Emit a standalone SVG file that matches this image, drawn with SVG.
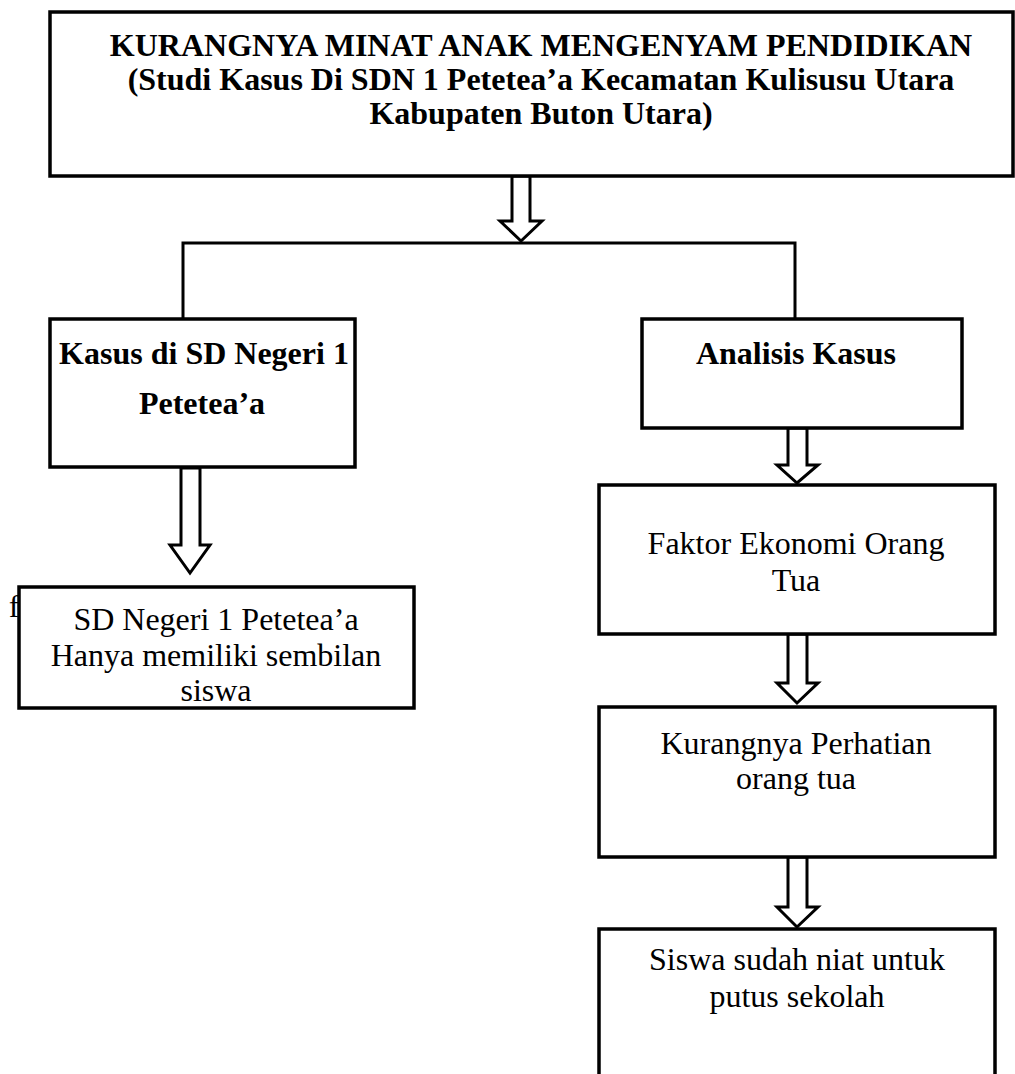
<svg xmlns="http://www.w3.org/2000/svg" width="1015" height="1074" viewBox="0 0 1015 1074">
<style>
.box{fill:#fff;stroke:#000;stroke-width:3.5}
.arr{fill:#fff;stroke:#000;stroke-width:3;stroke-linejoin:miter}
.ln{fill:none;stroke:#000;stroke-width:3}
.t{font-family:"Liberation Serif","Times New Roman",serif;font-size:32px;fill:#000;text-anchor:middle}
.b{font-weight:bold}
</style>
<rect width="1015" height="1074" fill="#fff"/>
<g id="connectors">
<polyline class="ln" points="183,319 183,243 795,243 795,319"/>
<polygon class="arr" points="512,176 530,176 530,221 542,221 521,241 500,221 512,221"/>
<polygon class="arr" points="181,468 200,468 200,545 210,545 190,573 170,545 181,545"/>
<polygon class="arr" points="788,428 807,428 807,465 818,465 797,483 777,465 788,465"/>
<polygon class="arr" points="788,634 807,634 807,683 818,683 797,703 777,683 788,683"/>
<polygon class="arr" points="788,857 807,857 807,907 818,907 797,927 777,907 788,907"/>
</g>
<g id="title">
<rect class="box" x="50" y="12" width="963" height="164"/>
<text class="t b" x="541" y="56">KURANGNYA MINAT ANAK MENGENYAM PENDIDIKAN</text>
<text class="t b" x="541" y="90">(Studi Kasus Di SDN 1 Petetea’a Kecamatan Kulisusu Utara</text>
<text class="t b" x="541" y="124">Kabupaten Buton Utara)</text>
</g>
<g id="kasus">
<rect class="box" x="50" y="319" width="305" height="148"/>
<text class="t b" x="204" y="364">Kasus di SD Negeri 1</text>
<text class="t b" x="202" y="414">Petetea’a</text>
</g>
<g id="analisis">
<rect class="box" x="642" y="319" width="320" height="109"/>
<text class="t b" x="796" y="364">Analisis Kasus</text>
</g>
<text class="t" x="14" y="617">f</text>
<g id="sd">
<rect class="box" x="19" y="587" width="395" height="121"/>
<text class="t" x="216" y="630">SD Negeri 1 Petetea’a</text>
<text class="t" x="216" y="666">Hanya memiliki sembilan</text>
<text class="t" x="216" y="701">siswa</text>
</g>
<g id="ekonomi">
<rect class="box" x="599" y="485" width="396" height="149"/>
<text class="t" x="796" y="554">Faktor Ekonomi Orang</text>
<text class="t" x="796" y="591">Tua</text>
</g>
<g id="perhatian">
<rect class="box" x="599" y="707" width="396" height="150"/>
<text class="t" x="796" y="754">Kurangnya Perhatian</text>
<text class="t" x="796" y="789">orang tua</text>
</g>
<g id="putus">
<path class="box" d="M599,1080 V929 H995 V1080"/>
<text class="t" x="797" y="970">Siswa sudah niat untuk</text>
<text class="t" x="797" y="1007">putus sekolah</text>
</g>
</svg>
